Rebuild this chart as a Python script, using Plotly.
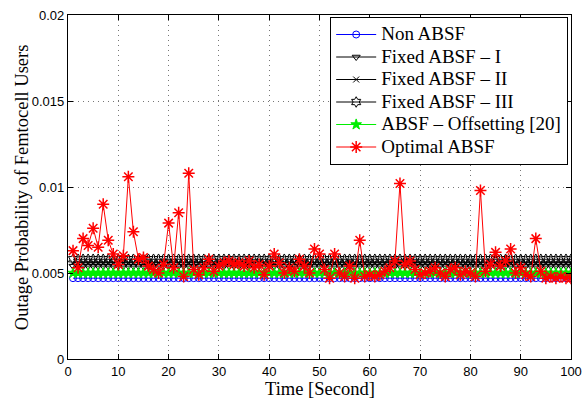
import plotly.graph_objects as go

time = list(range(1, 101))
non_absf = [0.0047] * 100
fixed_1 = [0.0054] * 100
fixed_2 = [0.0056] * 100
fixed_3 = [0.0058] * 100
offsetting = [0.0050] * 100
optimal = [
    0.0063, 0.0053, 0.0070, 0.0066, 0.0076, 0.0065, 0.0090, 0.0069, 0.0061, 0.0055,
    0.0060, 0.0106, 0.0074, 0.0058, 0.0059, 0.0054, 0.0052, 0.0050, 0.0055, 0.0079,
    0.0053, 0.0085, 0.0048, 0.0108, 0.0052, 0.0049, 0.0053, 0.0058, 0.0051, 0.0054,
    0.0056, 0.0057, 0.0055, 0.0056, 0.0054, 0.0057, 0.0053, 0.0055, 0.0049, 0.0054,
    0.0061, 0.0056, 0.0050, 0.0053, 0.0051, 0.0058, 0.0054, 0.0050, 0.0064, 0.0061,
    0.0052, 0.0047, 0.0061, 0.0050, 0.0048, 0.0054, 0.0047, 0.0069, 0.0048, 0.0049,
    0.0048, 0.0049, 0.0051, 0.0053, 0.0057, 0.0102, 0.0055, 0.0057, 0.0052, 0.0049,
    0.0050, 0.0051, 0.0053, 0.0050, 0.0048, 0.0052, 0.0053, 0.0049, 0.0051, 0.0050,
    0.0048, 0.0098, 0.0051, 0.0055, 0.0062, 0.0054, 0.0057, 0.0064, 0.0050, 0.0053,
    0.0049, 0.0048, 0.0070, 0.0051, 0.0047, 0.0048, 0.0047, 0.0048, 0.0047, 0.0047,
]
names = ["Non ABSF", "Fixed ABSF \u2013 I", "Fixed ABSF \u2013 II", "Fixed ABSF \u2013 III",
         "ABSF \u2013 Offsetting [20]", "Optimal ABSF"]

fig = go.Figure()
styles = [
    (non_absf, "blue", "circle-open", 7, 1),
    (fixed_1, "black", "triangle-down-open", 7, 1),
    (fixed_2, "black", "x-thin-open", 6, 1),
    (fixed_3, "black", "hexagram-open", 8, 1),
    (offsetting, "#00ee00", "star", 8, 1),
    (optimal, "red", "asterisk-open", 10, 1.5),
]
for (vals, col, sym, sz, lw), nm in zip(styles, names):
    fig.add_trace(go.Scatter(
        x=time, y=vals, name='<span style="font-size:19px">' + nm + "</span>",
        mode="lines+markers",
        line=dict(color=col, width=1),
        marker=dict(symbol=sym, size=sz, color=col, line=dict(color=col, width=lw)),
    ))

axis_common = dict(
    showline=True, linecolor="black", linewidth=1.2, mirror="ticks",
    ticks="inside", ticklen=5, tickcolor="black",
    showgrid=True, gridcolor="#777", griddash="1px,4px", gridwidth=1,
    zeroline=False, automargin=False,
    tickfont=dict(family="Liberation Sans, Arial", size=13, color="black"),
)
fig.update_xaxes(range=[0, 100], dtick=10, tick0=0, **axis_common)
fig.update_yaxes(range=[0, 0.02], tickvals=[0, 0.005, 0.01, 0.015, 0.02],
                 ticktext=["0", "0.005", "0.01", "0.015", "0.02"], **axis_common)
title_font = dict(family="Liberation Serif", size=18.5, color="black")
fig.add_annotation(text="Time [Second]", xref="paper", yref="paper", x=0.5, y=-0.088,
                   xanchor="center", yanchor="middle", showarrow=False, font=title_font)
fig.add_annotation(text="Outage Probability of Femtocell Users", xref="paper", yref="paper",
                   x=-0.091, y=0.5, textangle=-90, xanchor="center", yanchor="middle",
                   showarrow=False, font=title_font)
fig.update_layout(
    width=582, height=402,
    margin=dict(l=68, r=11, t=15, b=43),
    plot_bgcolor="white", paper_bgcolor="white",
    legend=dict(x=0.994, y=0.994, xanchor="right", yanchor="top",
                bgcolor="white", bordercolor="black", borderwidth=1.2,
                font=dict(family="Liberation Serif", size=15, color="black"),
                tracegroupgap=0, itemwidth=40),
)
fig.write_html("out.html", config={"displayModeBar": False},
               post_script="document.body.style.margin='0';")
